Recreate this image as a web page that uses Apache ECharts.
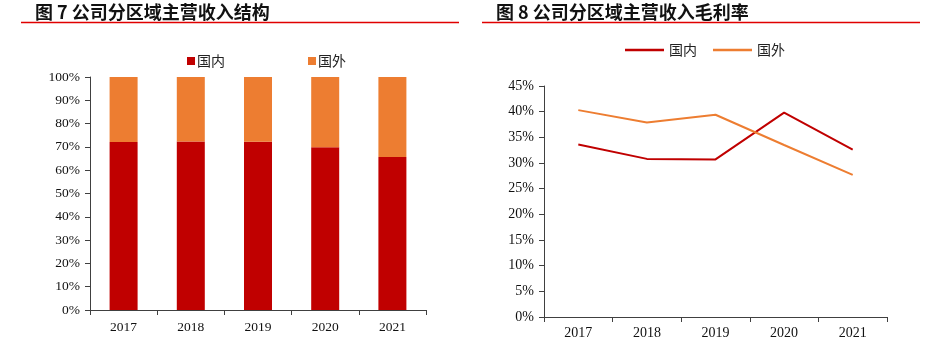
<!DOCTYPE html>
<html><head><meta charset="utf-8">
<script src="https://cdn.jsdelivr.net/npm/echarts@6/dist/echarts.min.js"></script>
<style>
html,body{margin:0;padding:0;background:#fff;}
#c1{position:absolute;left:0;top:0;width:470px;height:344px;}
#c2{position:absolute;left:470px;top:0;width:455px;height:344px;}
</style></head><body>
<div id="c1"></div><div id="c2"></div>
<script>
const years = ['2017','2018','2019','2020','2021'];
const shareDomestic = [72.1, 72.3, 72.2, 69.8, 65.7];
const shareForeign = [27.9, 27.7, 27.8, 30.2, 34.3];
const marginDomestic = [33.6, 30.8, 30.7, 39.8, 32.6];
const marginForeign = [40.3, 37.9, 39.4, 33.5, 27.7];
const title1 = '图 7 公司分区域主营收入结构';
const title2 = '图 8 公司分区域主营收入毛利率';

const RED = '#C00000', ORANGE = '#ED7D31';
const AX = '#404040';
const serif = '"Liberation Serif","Times New Roman",serif';
const cjk = '"Noto Sans CJK SC","Noto Sans",sans-serif';

function titleGraphic(text, x, x1, x2){
  return [
    {type:'text', left:x, top:3, style:{text:text, font:'bold 18px '+cjk, fill:'#111'}},
    {type:'line', shape:{x1:x1,y1:22.5,x2:x2,y2:22.5}, style:{stroke:'#E00000', lineWidth:1.5}}
  ];
}

const c1 = echarts.init(document.getElementById('c1'), null, {renderer:'canvas'});
c1.setOption({
  animation:false,
  graphic: titleGraphic(title1, 35, 21, 459),
  legend:{
    data:['国内','国外'], top:54, left:187, padding:0, itemGap:83, icon:'rect', itemWidth:8, itemHeight:8,
    textStyle:{fontFamily:cjk, fontSize:14, color:'#222', padding:[0,0,0,-3]}
  },
  grid:{left:90, right:44, top:77, bottom:34},
  xAxis:{
    type:'category', data:years,
    axisLine:{lineStyle:{color:AX, width:1}},
    axisTick:{show:true, inside:false, length:5, lineStyle:{color:AX}},
    axisLabel:{fontFamily:serif, fontSize:13.5, color:'#111', margin:10}
  },
  yAxis:{
    type:'value', min:0, max:100, interval:10,
    axisLine:{show:true, lineStyle:{color:AX, width:1}},
    axisTick:{show:true, length:5, lineStyle:{color:AX}},
    splitLine:{show:false},
    axisLabel:{fontFamily:serif, fontSize:13.5, color:'#111', margin:10, formatter:'{value}%'}
  },
  series:[
    {name:'国内', type:'bar', stack:'s', data:shareDomestic, barWidth:28, itemStyle:{color:RED}},
    {name:'国外', type:'bar', stack:'s', data:shareForeign, barWidth:28, itemStyle:{color:ORANGE}}
  ]
});

const c2 = echarts.init(document.getElementById('c2'), null, {renderer:'canvas'});
c2.setOption({
  animation:false,
  graphic: titleGraphic(title2, 26, 12, 450),
  legend:{
    data:['国内','国外'], top:43, left:155, padding:0, itemGap:16, icon:'rect', itemWidth:39, itemHeight:2.5,
    textStyle:{fontFamily:cjk, fontSize:14, color:'#222'}
  },
  grid:{left:74, right:38, top:86, bottom:27},
  xAxis:{
    type:'category', data:years,
    axisLine:{lineStyle:{color:AX, width:1}},
    axisTick:{show:true, length:5, lineStyle:{color:AX}},
    axisLabel:{fontFamily:serif, fontSize:14, color:'#111', margin:9}
  },
  yAxis:{
    type:'value', min:0, max:45, interval:5,
    axisLine:{show:true, lineStyle:{color:AX, width:1}},
    axisTick:{show:true, length:5, lineStyle:{color:AX}},
    splitLine:{show:false},
    axisLabel:{fontFamily:serif, fontSize:14, color:'#111', margin:10, formatter:'{value}%'}
  },
  series:[
    {name:'国内', type:'line', data:marginDomestic, symbol:'none', lineStyle:{color:RED, width:2}, itemStyle:{color:RED}},
    {name:'国外', type:'line', data:marginForeign, symbol:'none', lineStyle:{color:ORANGE, width:2}, itemStyle:{color:ORANGE}}
  ]
});
</script></body></html>
